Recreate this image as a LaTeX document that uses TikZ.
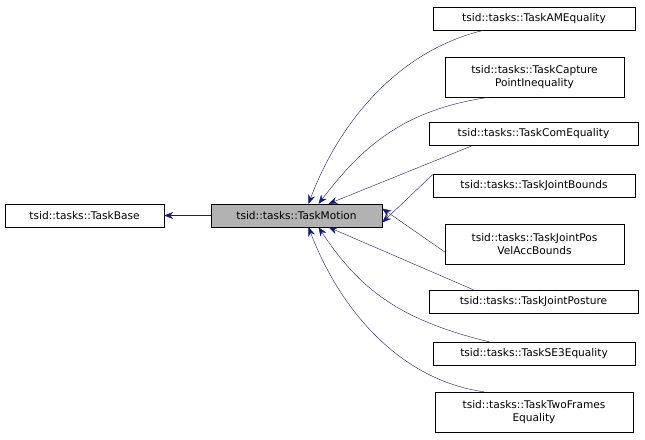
\documentclass[tikz,border=0pt]{standalone}
\usepackage{fontspec}
\setmainfont{DejaVu Sans}
\usetikzlibrary{arrows.meta}
\definecolor{edgeblue}{RGB}{25,25,112}
\tikzset{
	every node/.style={
		align=center,
	},
	class-node/.style={
		rectangle,
		draw=black,
		fill=white,
		font=\fontsize{10.6}{13}\selectfont,
		inner sep=0pt,
		anchor=center
	},
	edge-style/.style = {edgeblue, {Stealth[length=9pt,width=7pt]}-},
}
\begin{document}
\begin{tikzpicture}[x=1pt,y=-1pt]
    \useasboundingbox (0,0) rectangle (645,439);
    \node[class-node, minimum width=159, minimum height=23] (base) at (84.5,215.5) {tsid::tasks::TaskBase};
    \node[class-node, minimum width=171, minimum height=23, fill=black!30] (motion) at (296.5,215.5) {tsid::tasks::TaskMotion};
    \node[class-node, minimum width=202, minimum height=23] (am) at (534,18.5) {tsid::tasks::TaskAMEquality};
    \node[class-node, minimum width=179, minimum height=40] (cap) at (534.5,77) {tsid::tasks::TaskCapture\\PointInequality};
    \node[class-node, minimum width=209, minimum height=23] (com) at (533.5,133.5) {tsid::tasks::TaskComEquality};
    \node[class-node, minimum width=202, minimum height=23] (jb) at (534,185.5) {tsid::tasks::TaskJointBounds};
    \node[class-node, minimum width=179, minimum height=40] (jpva) at (534.5,244) {tsid::tasks::TaskJointPos\\VelAccBounds};
    \node[class-node, minimum width=209, minimum height=23] (post) at (533.5,301.5) {tsid::tasks::TaskJointPosture};
    \node[class-node, minimum width=202, minimum height=23] (se3) at (534,353.5) {tsid::tasks::TaskSE3Equality};
    \node[class-node, minimum width=198, minimum height=40] (two) at (534,412) {tsid::tasks::TaskTwoFrames\\Equality};
    % inheritance edges
    \draw[edge-style] (base.east) -- (motion.west);
    \draw[edge-style] ([xshift=12]motion.north) .. controls (340,120) and (400,50) .. ([xshift=-50]am.south);
    \draw[edge-style] ([xshift=22]motion.north) .. controls (360,150) and (400,110) .. ([xshift=-45]cap.south);
    \draw[edge-style] ([xshift=32]motion.north) -- ([xshift=-60]com.south);
    \draw[edge-style] ([yshift=-7]motion.east) -- ([yshift=11]jb.west);
    \draw[edge-style] ([yshift=7]motion.east) -- ([yshift=-8]jpva.west);
    \draw[edge-style] ([xshift=32]motion.south) -- ([xshift=-60]post.north);
    \draw[edge-style] ([xshift=22]motion.south) .. controls (360,290) and (400,320) .. ([xshift=-45]se3.north);
    \draw[edge-style] ([xshift=12]motion.south) .. controls (340,310) and (400,380) .. ([xshift=-50]two.north);
\end{tikzpicture}
\end{document}
